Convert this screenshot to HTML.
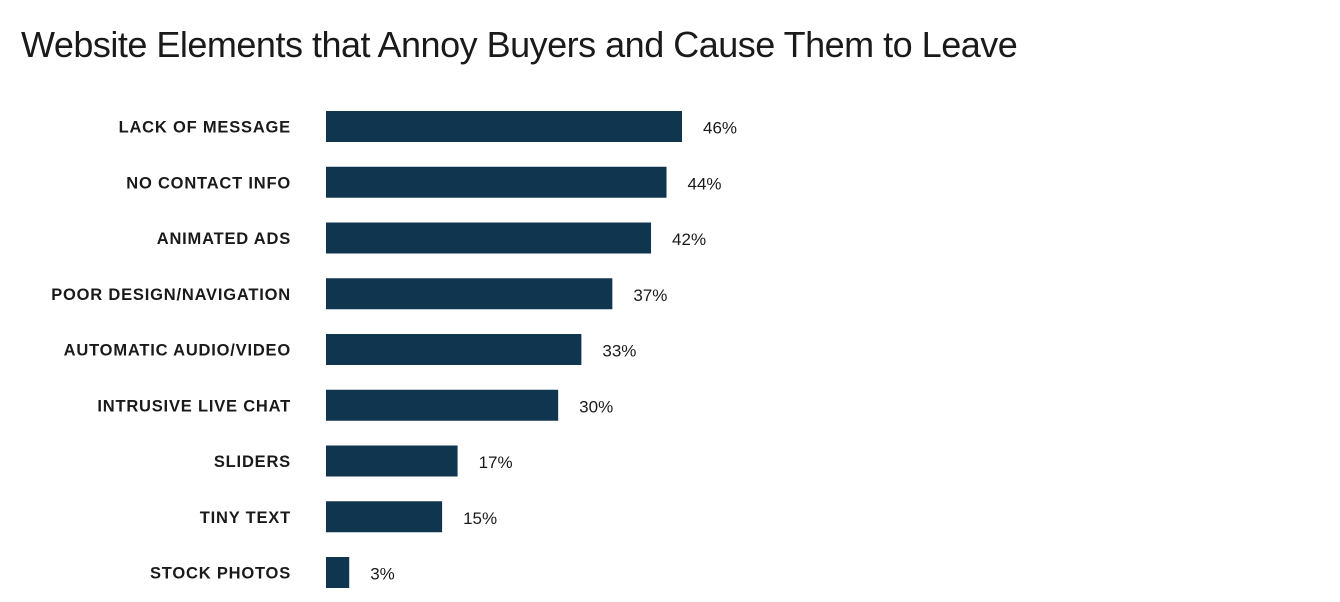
<!DOCTYPE html>
<html><head><meta charset="utf-8"><style>
body{margin:0;background:#fff;width:1340px;height:602px;overflow:hidden;font-family:"Liberation Sans",sans-serif}
#title{position:absolute;left:21px;top:24px;font-size:36px;font-weight:300;color:#1a1a1a;letter-spacing:-0.5px;margin:0;white-space:nowrap}
</style></head><body>
<h1 id="title">Website Elements that Annoy Buyers and Cause Them to Leave</h1>
<svg id="chart" width="1340" height="602" style="position:absolute;left:0;top:0"></svg>
<script>
const categories=["LACK OF MESSAGE","NO CONTACT INFO","ANIMATED ADS","POOR DESIGN/NAVIGATION","AUTOMATIC AUDIO/VIDEO","INTRUSIVE LIVE CHAT","SLIDERS","TINY TEXT","STOCK PHOTOS"];
const values=[46,44,42,37,33,30,17,15,3];
const valueLabels=["46%","44%","42%","37%","33%","30%","17%","15%","3%"];
const ns="http://www.w3.org/2000/svg";
const svg=document.getElementById('chart');
const x0=326, pxPer=356/46, y0=111, step=55.75, bh=31;
const xs=v=>x0+v*pxPer;
const ys=i=>y0+i*step;
categories.forEach((c,i)=>{
  const r=document.createElementNS(ns,'rect');
  
  
  r.setAttribute('x',x0);r.setAttribute('y',ys(i));
  r.setAttribute('width',xs(values[i])-x0);r.setAttribute('height',bh);
  r.setAttribute('fill','#10364f');
  svg.appendChild(r);
  const t=document.createElementNS(ns,'text');
  
  
  t.setAttribute('x',291);t.setAttribute('y',ys(i)+bh/2+6);
  t.setAttribute('text-anchor','end');t.setAttribute('font-size','16.5');
  t.setAttribute('font-weight','bold');t.setAttribute('fill','#1a1a1a');
  t.setAttribute('letter-spacing','0.8');
  t.textContent=c;svg.appendChild(t);
  const v=document.createElementNS(ns,'text');
  
  
  v.setAttribute('x',xs(values[i])+21);v.setAttribute('y',ys(i)+bh/2+7);
  v.setAttribute('font-size','17');v.setAttribute('fill','#1a1a1a');
  v.textContent=valueLabels[i];svg.appendChild(v);
});
</script>
</body></html>
